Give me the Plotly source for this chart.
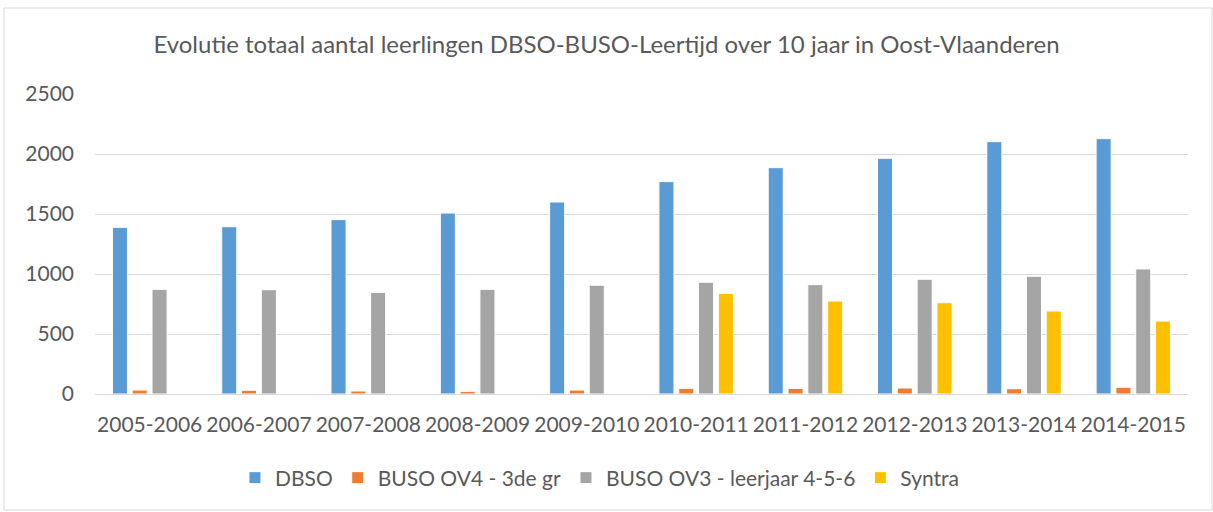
import plotly.graph_objects as go

categories = ["2005-2006", "2006-2007", "2007-2008", "2008-2009", "2009-2010",
              "2010-2011", "2011-2012", "2012-2013", "2013-2014", "2014-2015"]
dbso = [1389, 1394, 1453, 1508, 1600, 1770, 1886, 1964, 2103, 2128]
buso_ov4 = [33, 31, 25, 22, 33, 47, 47, 50, 44, 56]
buso_ov3 = [872, 869, 847, 872, 906, 931, 911, 956, 981, 1042]
syntra = [None, None, None, None, None, 839, 775, 761, 692, 608]

series = [
    ("DBSO", dbso, "#5B9BD5"),
    ("BUSO OV4 - 3de gr", buso_ov4, "#ED7D31"),
    ("BUSO OV3 - leerjaar 4-5-6", buso_ov3, "#A5A5A5"),
    ("Syntra", syntra, "#FFC000"),
]

fig = go.Figure()
for name, vals, color in series:
    fig.add_trace(go.Bar(x=categories, y=vals, name=name,
                         marker=dict(color=color, line=dict(color="white", width=1))))

font = "Lato, 'Open Sans', sans-serif"
fig.update_layout(
    width=1213, height=512,
    paper_bgcolor="white", plot_bgcolor="white",
    margin=dict(l=95, r=25, t=94, b=118),
    barmode="group", bargap=0.275, bargroupgap=0.24,
    title=dict(text="Evolutie totaal aantal leerlingen DBSO-BUSO-Leertijd over 10 jaar in Oost-Vlaanderen",
               x=0.5, xanchor="center", y=1 - 45 / 512, yanchor="middle",
               font=dict(family=font, size=24, color="#595959")),
    font=dict(family=font, size=21, color="#595959"),
    legend=dict(orientation="h", x=0.462, xanchor="center", y=-0.28, yanchor="middle",
                font=dict(size=21, color="#595959"), itemwidth=30, traceorder="normal"),
    yaxis=dict(range=[0, 2500], dtick=500, showgrid=True, gridcolor="#D9D9D9", gridwidth=1,
               zeroline=False, showline=False, ticks="", ticklabelstandoff=20),
    xaxis=dict(showline=True, linecolor="#D9D9D9", linewidth=1, ticks="", showgrid=False,
               ticklabelstandoff=12),
    shapes=[dict(type="rect", xref="paper", yref="paper",
                 x0=(4 - 95) / 1093, x1=(1212 - 95) / 1093,
                 y0=(394 - 510) / 300, y1=(394 - 8) / 300,
                 line=dict(color="#D9D9D9", width=1), fillcolor="rgba(0,0,0,0)", layer="below")],
)
fig.write_html("out.html", config={"displayModeBar": False},
               post_script="document.body.style.margin='0px';")
